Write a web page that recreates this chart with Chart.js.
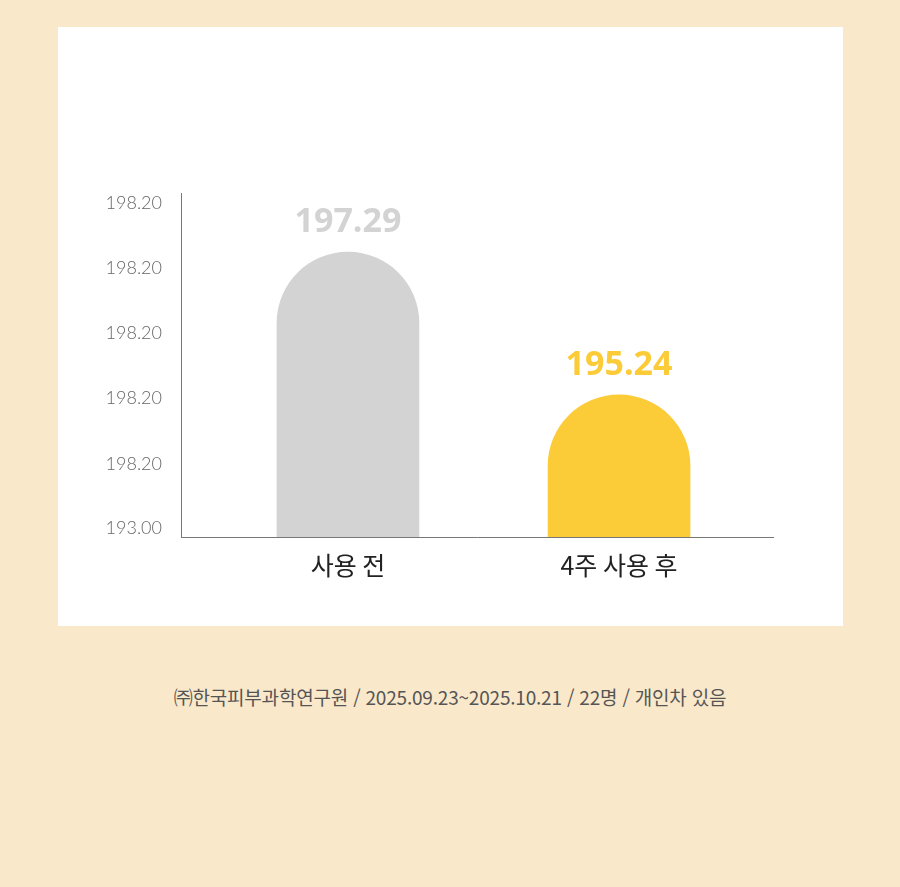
<!DOCTYPE html>
<html lang="ko">
<head>
  <meta charset="UTF-8" />
  <title>사용 전 / 4주 사용 후</title>
  <script src="https://cdn.jsdelivr.net/npm/chart.js"></script>
  <style>
    html, body {
      margin: 0;
      padding: 0;
      width: 900px;
      height: 887px;
      background-color: #fae8ca;
      overflow: hidden;
    }
    .panel {
      position: absolute;
      left: 58px;
      top: 27px;
      width: 785px;
      height: 599px;
      background-color: #ffffff;
    }
    .note {
      position: absolute;
      left: 0;
      width: 900px;
      top: 683px;
      line-height: 28px;
      text-align: center;
      font-family: 'Noto Sans CJK KR', sans-serif;
      font-size: 19px;
      letter-spacing: -0.2px;
      color: #555555;
    }
  </style>
</head>
<body>
  <div class="panel">
    <canvas id="chart" width="785" height="599"></canvas>
  </div>
  <div class="note">㈜한국피부과학연구원 / 2025.09.23~2025.10.21 / 22명 / 개인차 있음</div>

  <script>
    const categories = ['사용 전', '4주 사용 후'];
    const values = [197.29, 195.24];
    const barColors = ['#d3d3d3', '#fbcb38'];
    const yTickValues = [193.32, 194.25, 195.19, 196.13, 197.06, 198.0];
    const yTickLabels = ['193.00', '198.20', '198.20', '198.20', '198.20', '198.20'];

    // 막대 위에 값 표시
    const valueLabels = {
      id: 'valueLabels',
      afterDatasetsDraw(chart) {
        const ctx = chart.ctx;
        const ds = chart.data.datasets[0];
        chart.getDatasetMeta(0).data.forEach((bar, i) => {
          ctx.save();
          ctx.font = "700 34px 'Open Sans', sans-serif";
          ctx.fillStyle = ds.backgroundColor[i];
          ctx.textAlign = 'center';
          ctx.textBaseline = 'middle';
          ctx.fillText(values[i].toFixed(2), bar.x, bar.y - 30);
          ctx.restore();
        });
      }
    };

    const ctx = document.getElementById('chart').getContext('2d');
    new Chart(ctx, {
      type: 'bar',
      data: {
        datasets: [{
          data: values.map((v, i) => ({ x: i, y: v })),
          backgroundColor: barColors,
          barThickness: 142,
          borderRadius: { topLeft: 200, topRight: 200, bottomLeft: 0, bottomRight: 0 },
          borderSkipped: false
        }]
      },
      options: {
        responsive: false,
        animation: false,
        layout: { padding: { top: 166, right: 70, left: 0, bottom: 0 } },
        plugins: {
          legend: { display: false },
          tooltip: { enabled: false }
        },
        scales: {
          x: {
            type: 'linear',
            min: -0.616,
            max: 1.568,
            offset: false,
            grid: { display: false, drawTicks: false },
            border: { display: true, color: '#777777', width: 1 },
            afterBuildTicks(scale) {
              scale.ticks = categories.map((c, i) => ({ value: i }));
            },
            afterFit(scale) { scale.height = 89; },
            ticks: {
              padding: 13,
              color: '#222222',
              font: { family: "'Noto Sans CJK KR', sans-serif", size: 25 },
              callback: (v) => categories[v]
            }
          },
          y: {
            min: 193.2,
            max: 198.14,
            grid: { display: false, drawTicks: false },
            border: { display: true, color: '#777777', width: 1 },
            afterBuildTicks(scale) {
              scale.ticks = yTickValues.map(v => ({ value: v }));
            },
            afterFit(scale) { scale.width = 123; },
            ticks: {
              padding: 19,
              color: '#666666',
              font: { family: "Lato, sans-serif", size: 18, weight: 300 },
              callback: (v, i) => yTickLabels[i]
            }
          }
        }
      },
      plugins: [valueLabels]
    });
  </script>
</body>
</html>
